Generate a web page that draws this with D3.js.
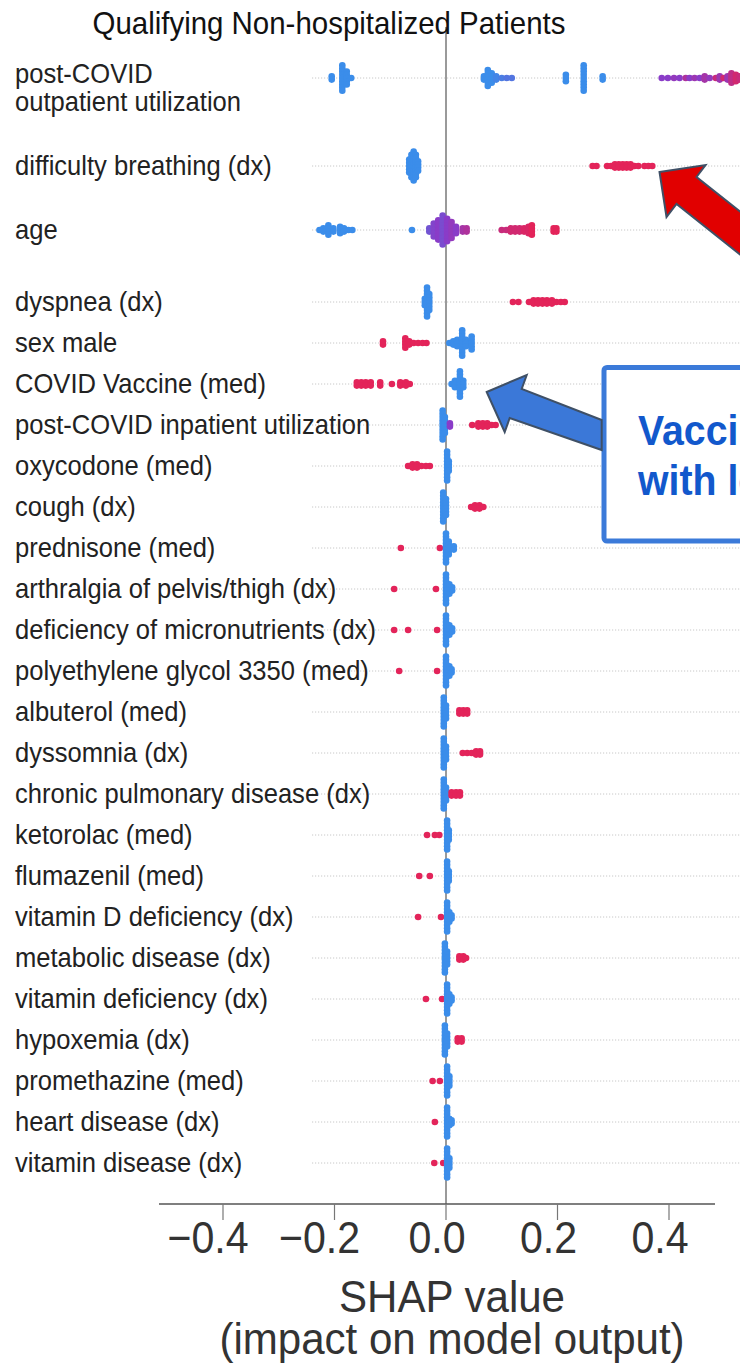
<!DOCTYPE html>
<html><head><meta charset="utf-8">
<script src="https://cdn.jsdelivr.net/npm/d3@7"></script>
<style>html,body{margin:0;padding:0;background:#fff;overflow:hidden}svg{display:block}</style>
</head><body>
<script>
// ---------- DATA ----------
const features = [
  "post-COVID\noutpatient utilization", "difficulty breathing (dx)", "age", "dyspnea (dx)", "sex male",
  "COVID Vaccine (med)", "post-COVID inpatient utilization", "oxycodone (med)", "cough (dx)",
  "prednisone (med)", "arthralgia of pelvis/thigh (dx)", "deficiency of micronutrients (dx)",
  "polyethylene glycol 3350 (med)", "albuterol (med)", "dyssomnia (dx)", "chronic pulmonary disease (dx)",
  "ketorolac (med)", "flumazenil (med)", "vitamin D deficiency (dx)", "metabolic disease (dx)",
  "vitamin deficiency (dx)", "hypoxemia (dx)", "promethazine (med)", "heart disease (dx)", "vitamin disease (dx)"
];
// each entry: [SHAP value, number of patients stacked, feature value (0 low .. 1 high)]
const shapClusters = [
  [[-0.205,2,0],[-0.186,9,0],[-0.178,5,0],[-0.17,1,0],
   [0.068,2,0],[0.075,6,0],[0.082,4,0],[0.09,2,0.05],[0.10,1,0.1],[0.109,1,0.15],[0.118,1,0.15],
   [0.215,3,0],[0.247,9,0],[0.281,2,0],
   [0.387,1,0.5],[0.398,1,0.5],[0.409,1,0.55],[0.419,1,0.5],[0.430,1,0.7],[0.437,1,0.5],[0.446,1,0.6],
   [0.455,1,0.5],[0.464,2,0.65],[0.473,1,0.55],[0.484,1,0.85],[0.491,2,0.6],[0.498,1,0.9],[0.505,2,0.6],
   [0.512,4,0.8],[0.52,3,0.9],[0.527,2,0.85]],
  [[-0.066,5,0],[-0.062,8,0],[-0.058,10,0],[-0.054,8,0],[-0.05,4,0],
   [0.263,1,1],[0.270,1,1],[0.289,1,1],[0.296,1,1],[0.303,2,1],[0.310,2,1],[0.317,2,1],[0.324,2,1],
   [0.331,2,1],[0.338,1,1],[0.345,1,1],[0.356,1,1],[0.363,1,1],[0.370,1,1]],
  [[-0.227,1,0],[-0.22,2,0],[-0.211,4,0],[-0.202,2,0],[-0.19,3,0],[-0.183,2,0],[-0.175,1,0],[-0.168,1,0],
   [-0.061,1,0],
   [-0.03,2,0.35],[-0.022,5,0.45],[-0.014,7,0.5],[-0.006,10,0.4],[0.002,8,0.5],[0.01,6,0.55],[0.018,3,0.5],
   [0.03,2,0.65],[0.037,2,0.7],
   [0.1,1,0.85],[0.108,1,0.85],[0.116,2,0.9],[0.124,2,0.9],[0.132,2,0.9],[0.14,2,0.95],[0.148,3,0.95],[0.154,4,1],
   [0.193,2,1],[0.198,2,1]],
  [[-0.038,3,0],[-0.034,10,0],[-0.03,6,0],
   [0.12,1,1],[0.13,1,1],[0.149,1,1],[0.157,2,1],[0.165,2,1],[0.173,2,1],[0.181,2,1],[0.19,2,1],[0.198,1,1],[0.206,1,1],[0.213,1,1]],
  [[-0.113,2,1],[-0.073,4,1],[-0.066,2,1],[-0.058,1,1],[-0.05,1,1],[-0.042,1,1],[-0.035,1,1],
   [0.006,1,0],[0.013,2,0],[0.02,3,0],[0.029,9,0],[0.036,3,0],[0.046,5,0]],
  [[-0.16,2,1],[-0.152,2,1],[-0.144,2,1],[-0.135,2,1],[-0.118,2,1],[-0.097,1,1],[-0.082,2,1],[-0.072,2,1],[-0.065,1,1],
   [0.01,1,0],[0.016,3,0],[0.025,9,0],[0.031,3,0]],
  [[-0.006,10,0],[-0.002,6,0],[0.007,2,0.5],
   [0.047,1,1],[0.058,2,1],[0.066,2,1],[0.074,2,1],[0.082,1,1],[0.089,1,1]],
  [[-0.068,1,1],[-0.06,2,1],[-0.052,2,1],[-0.044,1,1],[-0.036,1,1],[-0.029,1,1],[0.002,10,0],[0.005,4,0]],
  [[-0.005,10,0],[0.0,6,0],[0.045,1,1],[0.052,2,1],[0.06,2,1],[0.067,1,1]],
  [[-0.081,1,1],[-0.011,1,1],[0.0,10,0],[0.005,5,0],[0.014,2,0]],
  [[-0.093,1,1],[-0.018,1,1],[0.0,10,0],[0.006,4,0],[0.011,2,0]],
  [[-0.093,1,1],[-0.068,1,1],[-0.016,1,1],[0.0,10,0],[0.006,4,0],[0.011,2,0]],
  [[-0.084,1,1],[-0.016,1,1],[0.0,10,0],[0.006,4,0],[0.01,2,0]],
  [[-0.004,10,0],[0.0,5,0],[0.024,2,1],[0.031,2,1],[0.038,2,1]],
  [[-0.004,10,0],[0.0,5,0],[0.03,1,1],[0.038,1,1],[0.046,1,1],[0.054,2,1],[0.061,2,1]],
  [[-0.004,10,0],[0.0,5,0],[0.01,2,1],[0.018,2,1],[0.025,2,1]],
  [[-0.034,1,1],[-0.02,1,1],[-0.012,1,1],[0.002,10,0],[0.005,4,0]],
  [[-0.048,1,1],[-0.029,1,1],[0.002,10,0],[0.005,4,0]],
  [[-0.05,1,1],[-0.009,1,1],[0.002,10,0],[0.006,4,0],[0.01,2,0]],
  [[-0.002,10,0],[0.002,5,0],[0.024,2,1],[0.031,2,1],[0.036,1,1]],
  [[-0.036,1,1],[-0.007,1,1],[0.002,10,0],[0.006,4,0],[0.01,2,0]],
  [[-0.002,10,0],[0.002,5,0],[0.021,2,1],[0.028,2,1]],
  [[-0.024,1,1],[-0.011,1,1],[0.002,10,0],[0.006,4,0]],
  [[-0.02,1,1],[0.002,10,0],[0.006,3,0],[0.01,2,0]],
  [[-0.021,1,1],[-0.005,1,1],[0.002,10,0],[0.006,4,0]]
];
const xTicks = [-0.4, -0.2, 0.0, 0.2, 0.4];
const xTickLabels = ["\u22120.4", "\u22120.2", "0.0", "0.2", "0.4"];
const titleText = "Qualifying Non-hospitalized Patients";
const axisTitle = ["SHAP value", "(impact on model output)"];
const redColor = "#e3245a", purpleColor = "#8a3cc8", blueColor = "#3b8dea";
const calloutText = ["Vaccination", "with lower risk"];

// ---------- LAYOUT ----------
const W = 740, H = 1364, SX = 0.935;
const svg = d3.select("body").append("svg").attr("width", W).attr("height", H)
  .style("font-family", "'Liberation Sans', Arial, sans-serif");

const x = d3.scaleLinear().domain([-0.4, 0.4]).range([223, 669]);
const y = d3.scaleLinear().domain([0, 1, 2, 3, 24]).range([78, 166, 230, 302, 1163]);
const color = d3.scaleLinear().domain([0, 0.5, 1]).range([blueColor, purpleColor, redColor]);
const DOT_R = 3.3, STACK = 3.2;

function txt(g, px, py, s, size, opts = {}) {
  return g.append("text")
    .attr("transform", `translate(${px},${py}) scale(${opts.sx || SX},1)`)
    .attr("font-size", size)
    .attr("text-anchor", opts.anchor || "start")
    .attr("font-weight", opts.weight || "normal")
    .attr("fill", opts.fill || "#222")
    .text(s);
}

// gridlines
svg.append("g").selectAll("line").data(features).join("line")
  .attr("x1", 312).attr("x2", W)
  .attr("y1", (d, i) => y(i)).attr("y2", (d, i) => y(i))
  .attr("stroke", "#c8c8c8").attr("stroke-width", 1).attr("stroke-dasharray", "1.2,1.8");

// zero line
svg.append("line").attr("x1", x(0)).attr("x2", x(0)).attr("y1", 27).attr("y2", 1204)
  .attr("stroke", "#9a9a9a").attr("stroke-width", 2);

// dots
const dots = [];
shapClusters.forEach((clusters, i) => {
  clusters.forEach(([v, n, f]) => {
    for (let k = 0; k < n; k++) dots.push({ row: i, v, f, off: (k - (n - 1) / 2) * STACK });
  });
});
svg.append("g").selectAll("circle").data(dots).join("circle")
  .attr("cx", d => x(d.v)).attr("cy", d => y(d.row) + d.off).attr("r", DOT_R)
  .attr("fill", d => color(d.f));

// feature labels
const lg = svg.append("g");
features.forEach((f, i) => {
  const lines = f.split("\n");
  const lh = 28;
  const base = y(i) + 9 - (lines.length - 1) * lh / 2 + (lines.length > 1 ? 10 : 0);
  lines.forEach((ln, j) => txt(lg, 15, base + j * lh, ln, 27.5, { sx: 0.93 }));
});

// title
txt(svg, 329, 34, titleText, 31.5, { anchor: "middle", fill: "#111" });

// x axis
const ag = svg.append("g");
ag.append("line").attr("x1", 159).attr("x2", 715).attr("y1", 1204).attr("y2", 1204)
  .attr("stroke", "#555").attr("stroke-width", 1.5);
ag.selectAll("line.tick").data(xTicks).join("line").attr("class", "tick")
  .attr("x1", d => x(d)).attr("x2", d => x(d)).attr("y1", 1204).attr("y2", 1220)
  .attr("stroke", "#777").attr("stroke-width", 1.2);
xTicks.forEach((t, i) => txt(ag, x(t) - (t < 0 ? 15 : 9), 1253, xTickLabels[i], 44, { anchor: "middle", fill: "#333" }));
txt(ag, 452, 1312, axisTitle[0], 45, { anchor: "middle", fill: "#333" });
txt(ag, 452, 1354, axisTitle[1], 45, { anchor: "middle", fill: "#333" });

// annotations: red arrow pointing at difficulty breathing
const tipR = [x(0.383), y(1) + 6];
const redArrow = [[0,0],[46,-7],[37,5],[120,71],[120,114],[17,32],[7,45]];
svg.append("polygon")
  .attr("points", redArrow.map(p => [tipR[0] + p[0], tipR[1] + p[1]].join(",")).join(" "))
  .attr("fill", "#e10000").attr("stroke", "#3f5066").attr("stroke-width", 2).attr("stroke-linejoin", "miter");

// blue callout box
svg.append("rect").attr("x", 604).attr("y", 367.5).attr("width", 200).attr("height", 173.5).attr("rx", 3)
  .attr("fill", "#fff").attr("stroke", "#3b7ad9").attr("stroke-width", 5);
txt(svg, 638, 445, calloutText[0], 42, { weight: "bold", fill: "#1258cc" });
txt(svg, 638, 495, calloutText[1], 42, { weight: "bold", fill: "#1258cc" });

// blue arrow pointing at COVID Vaccine
const tipB = [x(0.073), y(5) + 8];
const blueArrow = [[0,0],[40,-17],[35,-3],[115,28],[115,58],[23,26],[18,40]];
svg.append("polygon")
  .attr("points", blueArrow.map(p => [tipB[0] + p[0], tipB[1] + p[1]].join(",")).join(" "))
  .attr("fill", "#3b78d8").attr("stroke", "#3f5066").attr("stroke-width", 2);
</script>
</body></html>
